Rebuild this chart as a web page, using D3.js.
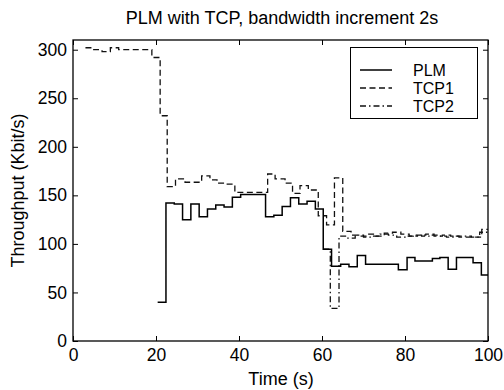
<!DOCTYPE html>
<html><head><meta charset="utf-8">
<script src="https://cdn.jsdelivr.net/npm/d3@7"></script>
<style>
body{margin:0;background:#fff;}
text{font-family:"Liberation Sans",Arial,Helvetica,sans-serif;fill:#000;}
</style></head>
<body><svg id="c" width="504" height="390"></svg>
<script>
// ---- data ----
const title = "PLM with TCP, bandwidth increment 2s";
const xLabel = "Time (s)";
const yLabel = "Throughput (Kbit/s)";
const xTicks = [0, 20, 40, 60, 80, 100];
const yTicks = [0, 50, 100, 150, 200, 250, 300];
const seriesNames = ["PLM", "TCP1", "TCP2"];

const plmTimes  = [20.4, 22.4, 24.4, 26.4, 28.4, 30.4, 32.4, 34.4, 36.4, 38.4, 40.4, 46.4, 48.4, 50.4, 52.4, 54.4, 56.4, 58.4, 60.3, 62.3, 64.5, 66.5, 68.5, 70.5, 78.4, 80.5, 82.4, 86.6, 88.4, 90.4, 92.4, 96.4, 98.4, 100];
const plmValues = [40, 142, 141, 125, 141, 128, 136, 140, 138, 148, 151, 128, 129.5, 138.5, 147.5, 141, 144, 136, 94.5, 77, 79, 76.5, 88, 79, 73.5, 86, 82.5, 85, 86, 74, 86, 80.5, 68, 68];

const tcp1Times  = [3, 5, 7, 9, 11, 19, 21, 22.7, 24.7, 27, 31, 33, 34.7, 37, 39, 46.9, 48.7, 51.1, 52.9, 54.7, 56.7, 59.1, 61.1, 63, 65, 67, 69, 71, 73, 75, 77, 79, 81, 83, 85, 87, 89, 91, 93, 95, 97, 98.5, 100];
const tcp1Values = [302, 300, 298, 302, 300, 292, 232, 159, 167, 163.5, 170, 166, 162.5, 161.5, 153, 172, 167, 162.5, 152, 160, 155.5, 129, 119.5, 168, 113, 109, 108, 110, 108, 111, 112, 110, 108, 109, 110, 108, 109, 108, 107, 107, 107, 115, 115];

const tcp2Times  = [60.3, 62, 64.1, 66, 68, 70, 72, 74, 76, 78, 80, 82, 84, 86, 88, 90, 92, 94, 96, 98, 100];
const tcp2Values = [94.5, 33.5, 108, 106, 109, 107, 108, 110, 109, 107, 108, 109, 108, 109, 108, 107, 108, 108, 107, 112, 112];

// ---- layout ----
const svg = d3.select("#c");
const L = 73, R = 488, T = 40, B = 341;
const x = d3.scaleLinear().domain([0, 100]).range([L, R]);
const y = d3.scaleLinear().domain([0, 310]).range([B, T]);
const FS = 17.5;

// title
svg.append("text").attr("x", 282).attr("y", 24).attr("text-anchor", "middle")
  .style("font-size", "18px").text(title);

// axes
const tickStyle = g => {
  g.select(".domain").remove();
  g.selectAll(".tick line").attr("stroke", "#000").attr("stroke-width", 1);
  g.selectAll(".tick text").style("font-size", FS + "px").style("font-family", '"Liberation Sans",Arial,sans-serif').attr("fill", "#000");
};
svg.append("g").attr("transform", `translate(0,${B})`)
  .call(d3.axisBottom(x).tickValues(xTicks).tickSizeInner(-5).tickSizeOuter(0).tickPadding(8)).call(tickStyle);
svg.append("g").attr("transform", `translate(0,${T})`)
  .call(d3.axisTop(x).tickValues(xTicks).tickSizeInner(-5).tickSizeOuter(0).tickFormat("")).call(tickStyle);
svg.append("g").attr("transform", `translate(${L},0)`)
  .call(d3.axisLeft(y).tickValues(yTicks).tickSizeInner(-5).tickSizeOuter(0).tickPadding(6)).call(tickStyle);
svg.append("g").attr("transform", `translate(${R},0)`)
  .call(d3.axisRight(y).tickValues(yTicks).tickSizeInner(-5).tickSizeOuter(0).tickFormat("")).call(tickStyle);

svg.append("rect").attr("x", L).attr("y", T).attr("width", R - L).attr("height", B - T)
  .attr("fill", "none").attr("stroke", "#000").attr("stroke-width", 1.3);

// labels
svg.append("text").attr("x", 281).attr("y", 385).attr("text-anchor", "middle")
  .style("font-size", "18px").text(xLabel);
svg.append("text").attr("transform", `translate(24,${(T + B) / 2}) rotate(-90)`).attr("text-anchor", "middle")
  .style("font-size", "18px").text(yLabel);

// series
const line = d3.line().x(d => x(d[0])).y(d => y(d[1])).curve(d3.curveStepAfter);
const mk = (ts, vs) => ts.map((t, i) => [t, vs[i]]);
const styles = [
  {data: mk(plmTimes, plmValues), dash: null, color: "#000", w: 1.5},
  {data: mk(tcp1Times, tcp1Values), dash: "6,3.5", color: "#111", w: 1.3},
  {data: mk(tcp2Times, tcp2Values), dash: "6,3,1.5,3", color: "#111", w: 1.3}
];
styles.slice().reverse().forEach(s => {
  svg.append("path").attr("d", line(s.data)).attr("fill", "none")
    .attr("stroke", s.color).attr("stroke-width", s.w)
    .attr("stroke-dasharray", s.dash);
});

// legend
const lg = svg.append("g");
lg.append("rect").attr("x", 350.5).attr("y", 47.5).attr("width", 127).attr("height", 71)
  .attr("fill", "#fff").attr("stroke", "#000").attr("stroke-width", 1);
seriesNames.forEach((n, i) => {
  const yy = 70 + i * 18;
  lg.append("line").attr("x1", 360).attr("x2", 392).attr("y1", yy).attr("y2", yy)
    .attr("stroke", styles[i].color).attr("stroke-width", styles[i].w).attr("stroke-dasharray", styles[i].dash);
  lg.append("text").attr("x", 413).attr("y", yy + 6).style("font-size", "16px").text(n);
});
</script></body></html>
